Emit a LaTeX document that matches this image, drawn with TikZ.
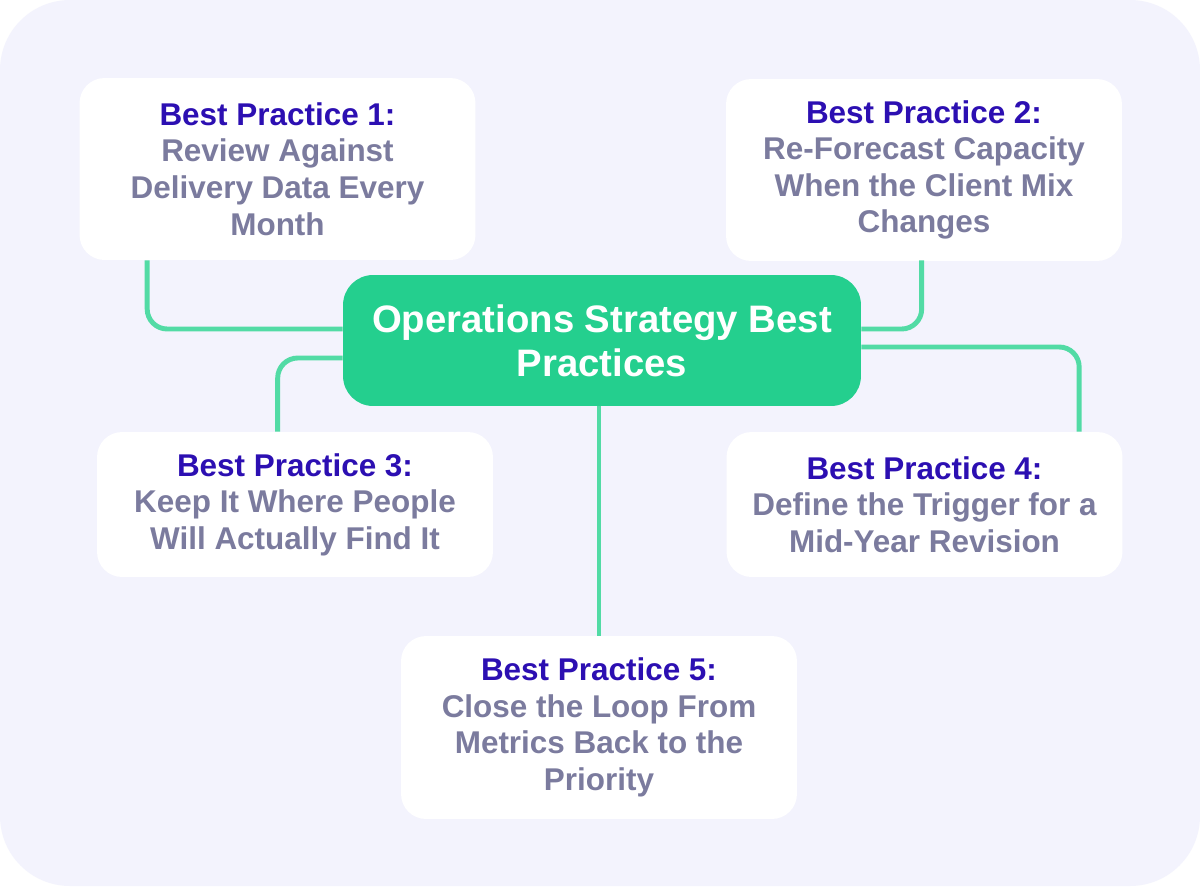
\documentclass[tikz,border=0pt]{standalone}
\usepackage{fontspec}
\setmainfont{Liberation Sans}
\usepackage{tikz}
\usetikzlibrary{calc}
\definecolor{pagebg}{HTML}{F3F3FD}
\definecolor{heading}{HTML}{2C0FB2}
\definecolor{bodytext}{HTML}{7B7B9E}
\definecolor{hubgreen}{HTML}{24CF8E}
\definecolor{linkgreen}{HTML}{52DBA5}

\begin{document}
\begin{tikzpicture}[x=0.02cm,y=-0.02cm,
	card/.style={fill=white,rounded corners=0.5cm,align=center,text=bodytext,
		minimum width=7.92cm,inner sep=0pt,
		font=\fontsize{17.9}{20.8}\selectfont\bfseries},
	hub/.style={fill=hubgreen,rounded corners=0.6cm,align=center,text=white,
		minimum width=10.36cm,minimum height=2.62cm,inner sep=0pt,
		font=\fontsize{21.8}{25}\selectfont\bfseries},
	link/.style={draw=linkgreen,line width=2.8pt,rounded corners=0.4cm}]
		\fill[white] (0,0) rectangle (1200,886);
		\fill[pagebg,rounded corners=1.4cm] (0,0) rectangle (1200,886);
		\node[hub] (core) at (602,340.5) {Operations Strategy Best\\Practices};
		\node[card,minimum height=3.64cm] (bp1) at (277.5,169)
			{\textcolor{heading}{Best Practice 1:}\\Review Against\\Delivery Data Every\\Month};
		\node[card,minimum height=3.64cm] (bp2) at (924,170)
			{\textcolor{heading}{Best Practice 2:}\\Re-Forecast Capacity\\When the Client Mix\\Changes};
		\node[card,minimum height=2.9cm] (bp3) at (295,504.5)
			{\textcolor{heading}{Best Practice 3:}\\Keep It Where People\\Will Actually Find It};
		\node[card,minimum height=2.9cm] (bp4) at (924.5,504.5)
			{\textcolor{heading}{Best Practice 4:}\\Define the Trigger for a\\Mid-Year Revision};
		\node[card,minimum height=3.66cm] (bp5) at (599,727.5)
			{\textcolor{heading}{Best Practice 5:}\\Close the Loop From\\Metrics Back to the\\Priority};
		\draw[link] ($(bp1.south west)+(68,0)$) |- ($(core.west)+(0,-11.5)$);
		\draw[link] ($(bp2.south west)+(196,-1)$) |- ($(core.east)+(0,-11.5)$);
		\draw[link] ($(core.west)+(0,17.5)$) -| ($(bp3.north west)+(181,0)$);
		\draw[link] ($(core.east)+(0,6.5)$) -| ($(bp4.north west)+(353,0)$);
		\draw[link] (core.south -| bp5.north) -- (bp5.north);
\end{tikzpicture}
\end{document}
